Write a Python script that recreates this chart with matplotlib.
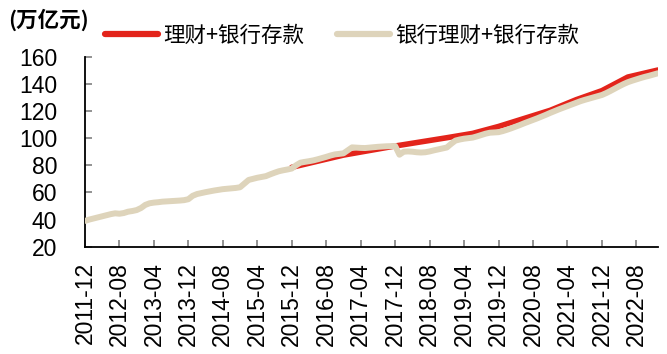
import matplotlib.pyplot as plt

plt.rcParams['font.family'] = ['Liberation Sans', 'Noto Sans CJK SC', 'DejaVu Sans']

# 月度序列, 2011-12 起
start_year, start_month = 2011, 12
n_months = 134

# 银行理财+银行存款 (万亿元)
bank_total = [
    39.0, 40.0, 40.8, 41.6, 42.4, 43.2, 44.0, 44.6, 44.3, 44.8, 45.8, 46.3,
    47.0, 48.5, 50.8, 52.0, 52.5, 52.8, 53.2, 53.4, 53.6, 53.8, 54.0, 54.3,
    55.0, 57.5, 58.8, 59.5, 60.2, 60.8, 61.4, 61.9, 62.4, 62.7, 63.0, 63.3,
    63.8, 66.5, 69.2, 70.0, 70.8, 71.4, 72.0, 73.3, 74.5, 75.6, 76.3, 76.9,
    77.6, 80.0, 81.9, 82.5, 83.0, 83.6, 84.4, 85.3, 86.2, 87.2, 88.0, 88.4,
    88.8, 91.0, 93.2, 93.0, 92.8, 92.7, 93.0, 93.3, 93.6, 93.8, 94.0, 94.1,
    94.2, 87.8, 90.0, 90.2, 90.0, 89.6, 89.4, 89.6, 90.2, 91.0, 91.7, 92.4,
    93.1, 95.8, 98.2, 99.0, 99.6, 100.0, 100.4, 101.3, 102.3, 103.3, 104.0, 104.2,
    104.4, 105.2, 106.2, 107.3, 108.5, 109.7, 111.0, 112.2, 113.4, 114.6, 115.9, 117.2,
    118.6, 119.9, 121.2, 122.4, 123.6, 124.8, 126.0, 127.2, 128.2, 129.1, 130.0, 130.9,
    131.8, 133.2, 134.8, 136.5, 138.2, 139.8, 141.2, 142.3, 143.3, 144.3, 145.2, 146.0,
    146.9, 147.8,
]

# 理财+银行存款: 读数节点 (月序号, 万亿元)
wm_months = [48, 60, 72, 84, 90, 96, 108, 114, 120, 126, 133]
wm_total = [78.5, 87.5, 94.2, 100.3, 103.5, 108.6, 120.5, 128.3, 135.0, 145.0, 150.2]

tick_step = 8
y_ticks = [20, 40, 60, 80, 100, 120, 140, 160]


def month_label(i):
    m = start_month - 1 + i
    return f"{start_year + m // 12}-{m % 12 + 1:02d}"


red = '#E3241B'
beige = '#DED4BB'

fig = plt.figure(figsize=(6.67, 3.54), dpi=100)
ax = fig.add_axes([0.1274, 0.3031, 0.859, 0.5367])

ax.plot(wm_months, wm_total, color=red, lw=4.0, solid_capstyle='round',
        label='理财+银行存款', zorder=2)
ax.plot(range(n_months), bank_total, color=beige, lw=4.3,
        solid_capstyle='round', solid_joinstyle='round',
        label='银行理财+银行存款', zorder=3)

ax.set_xlim(0, n_months - 1)
ax.set_ylim(20, 160)
ax.set_yticks(y_ticks)
xt = list(range(0, n_months, tick_step))
ax.set_xticks(xt)
ax.set_xticklabels([month_label(i) for i in xt], rotation=90)

for s in ['top', 'right']:
    ax.spines[s].set_visible(False)
for s in ['left', 'bottom']:
    ax.spines[s].set_linewidth(1.3)
    ax.spines[s].set_color('black')

ax.tick_params(axis='y', direction='in', length=5, width=1.2, color='#808080',
               labelsize=16.5, pad=20)
ax.tick_params(axis='x', direction='in', length=5, width=1.2, color='#808080',
               labelsize=16.5, pad=11)

fig.text(0.012, 0.945, '(万亿元)', fontsize=15.5, fontweight='bold',
         family=['Noto Sans CJK SC', 'DejaVu Sans'], va='center', ha='left')

leg = fig.legend(loc='center left', bbox_to_anchor=(0.158, 0.90), ncol=2,
                 frameon=False, prop={'family': ['Noto Sans CJK SC', 'DejaVu Sans'], 'size': 15.5},
                 handlelength=2.45, handletextpad=0.25, columnspacing=1.5,
                 borderaxespad=0, borderpad=0)
for h in leg.get_lines():
    h.set_linewidth(4.5)

fig.savefig('out.png', dpi=100)
